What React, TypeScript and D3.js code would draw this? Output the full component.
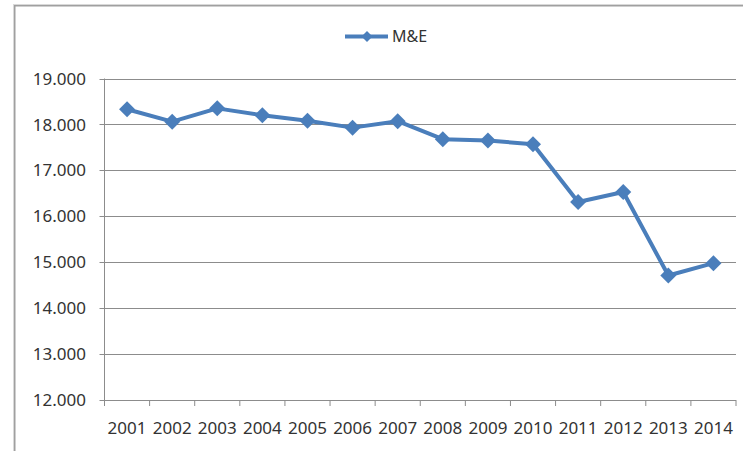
import React from "react";
import * as d3 from "d3";

const years = ["2001","2002","2003","2004","2005","2006","2007","2008","2009","2010","2011","2012","2013","2014"];
const values = [18330, 18060, 18350, 18200, 18080, 17930, 18070, 17680, 17650, 17570, 16310, 16530, 14710, 14980];
const yTicks = [12000, 13000, 14000, 15000, 16000, 17000, 18000, 19000];
const seriesName = "M&E";

const W = 743, H = 451;
const left = 104.5, right = 736, top = 78.5, bottom = 400;
const blue = "#4a7ebb";
const font = "'Noto Sans', 'Liberation Sans', Arial, sans-serif";

const locale = d3.formatLocale({ decimal: ",", thousands: ".", grouping: [3], currency: ["", ""] });
const fmt = locale.format(",.0f");

function diamond(cx: number, cy: number, r: number) {
  return `M${cx},${cy - r}L${cx + r},${cy}L${cx},${cy + r}L${cx - r},${cy}Z`;
}

export default function App() {
  const x = d3.scaleBand<string>().domain(years).range([left, right]).padding(0);
  const y = d3.scaleLinear().domain([12000, 19000]).range([bottom, top]);
  const cx = (d: string) => (x(d) as number) + x.bandwidth() / 2;
  const line = d3.line<number>().x((_, i) => cx(years[i])).y((v) => y(v));
  const boundaries = years.map((d) => x(d) as number).concat([right]);

  return (
    <svg width={W} height={H} style={{ position: "absolute", left: 0, top: 0, background: "#fff" }}>
      <rect x={0} y={0} width={W} height={H} fill="#fff" />
      {/* chart border */}
      <rect x={13.5} y={4.5} width={W + 20} height={H + 20} fill="none" stroke="#d9d9d9" strokeWidth={1} />
      <rect x={14.75} y={5.75} width={W + 20} height={H + 20} fill="none" stroke="#a0a0a0" strokeWidth={1.5} />

      {/* gridlines */}
      {yTicks.map((t) => (
        <line key={t} x1={left - 5} x2={right} y1={Math.round(y(t)) + 0.5} y2={Math.round(y(t)) + 0.5} stroke="#8c8c8c" strokeWidth={1} />
      ))}
      {/* y axis */}
      <line x1={left} x2={left} y1={top} y2={bottom + 0.5} stroke="#8c8c8c" strokeWidth={1} />
      {/* x ticks */}
      {boundaries.map((b, i) => (
        <line key={i} x1={b} x2={b} y1={bottom} y2={bottom + 6} stroke="#8c8c8c" strokeWidth={1} />
      ))}

      {/* y labels */}
      {yTicks.map((t) => (
        <text key={t} x={86} y={y(t)} dy="0.36em" textAnchor="end" fontFamily={font} fontSize={17} fill="#333">
          {fmt(t)}
        </text>
      ))}
      {/* x labels */}
      {years.map((d) => (
        <text key={d} x={cx(d)} y={434} textAnchor="middle" fontFamily={font} fontSize={17} fill="#333">
          {d}
        </text>
      ))}

      {/* series */}
      <path d={line(values) || ""} fill="none" stroke={blue} strokeWidth={4} strokeLinejoin="round" />
      {values.map((v, i) => (
        <path key={i} d={diamond(cx(years[i]), y(v), 8)} fill={blue} />
      ))}

      {/* legend */}
      <line x1={345} x2={388} y1={36.5} y2={36.5} stroke={blue} strokeWidth={4} />
      <path d={diamond(367, 36.5, 5.5)} fill={blue} />
      <text x={392} y={36.5} dy="0.36em" fontFamily={font} fontSize={16} fill="#333">
        {seriesName}
      </text>
    </svg>
  );
}
